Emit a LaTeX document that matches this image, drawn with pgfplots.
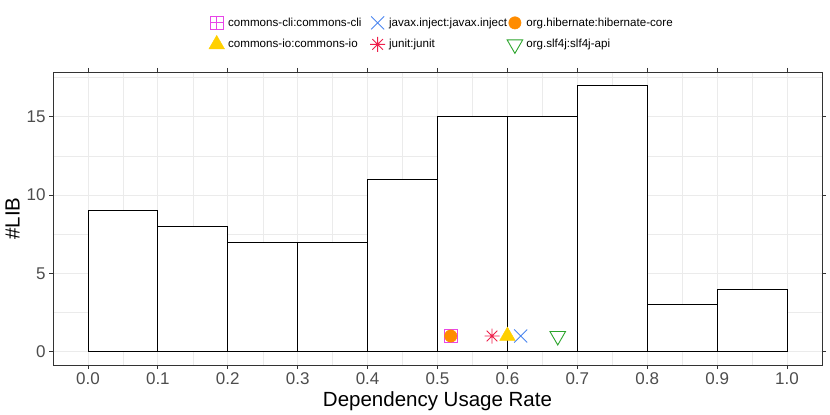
\documentclass[border=0pt]{standalone}
\usepackage{pgfplots}
\pgfplotsset{compat=1.18}
\usepackage{fontspec}
\setmainfont{Liberation Sans}
\usetikzlibrary{plotmarks}

\definecolor{gg92}{HTML}{EBEBEB}
\definecolor{gg20}{HTML}{333333}
\definecolor{gg30}{HTML}{4D4D4D}
\definecolor{ccli}{HTML}{E845E8}
\definecolor{cjavax}{HTML}{4B86F0}
\definecolor{chib}{HTML}{FF8C00}
\definecolor{cio}{HTML}{FFD000}
\definecolor{cjunit}{HTML}{EE1F4B}
\definecolor{cslf}{HTML}{2CA52C}

\pgfdeclareplotmark{boxplus}{%
  \pgfpathrectangle{\pgfqpoint{-\pgfplotmarksize}{-\pgfplotmarksize}}{\pgfqpoint{2\pgfplotmarksize}{2\pgfplotmarksize}}%
  \pgfpathmoveto{\pgfqpoint{-\pgfplotmarksize}{0pt}}\pgfpathlineto{\pgfqpoint{\pgfplotmarksize}{0pt}}%
  \pgfpathmoveto{\pgfqpoint{0pt}{-\pgfplotmarksize}}\pgfpathlineto{\pgfqpoint{0pt}{\pgfplotmarksize}}%
  \pgfusepathqstroke}
\pgfdeclareplotmark{star8}{%
  \pgfpathmoveto{\pgfqpoint{-\pgfplotmarksize}{0pt}}\pgfpathlineto{\pgfqpoint{\pgfplotmarksize}{0pt}}%
  \pgfpathmoveto{\pgfqpoint{0pt}{-\pgfplotmarksize}}\pgfpathlineto{\pgfqpoint{0pt}{\pgfplotmarksize}}%
  \pgfpathmoveto{\pgfqpoint{-.7071\pgfplotmarksize}{-.7071\pgfplotmarksize}}\pgfpathlineto{\pgfqpoint{.7071\pgfplotmarksize}{.7071\pgfplotmarksize}}%
  \pgfpathmoveto{\pgfqpoint{-.7071\pgfplotmarksize}{.7071\pgfplotmarksize}}\pgfpathlineto{\pgfqpoint{.7071\pgfplotmarksize}{-.7071\pgfplotmarksize}}%
  \pgfusepathqstroke}
\pgfdeclareplotmark{xx}{%
  \pgfpathmoveto{\pgfqpoint{-\pgfplotmarksize}{-\pgfplotmarksize}}\pgfpathlineto{\pgfqpoint{\pgfplotmarksize}{\pgfplotmarksize}}%
  \pgfpathmoveto{\pgfqpoint{-\pgfplotmarksize}{\pgfplotmarksize}}\pgfpathlineto{\pgfqpoint{\pgfplotmarksize}{-\pgfplotmarksize}}%
  \pgfusepathqstroke}

\pgfplotstableread{
x y
0.0 9
0.1 8
0.2 7
0.3 7
0.4 11
0.5 15
0.6 15
0.7 17
0.8 3
0.9 4
1.0 4
}\hist

\begin{document}
\begin{tikzpicture}[x=1pt,y=1pt]
\useasboundingbox (0,0) rectangle (830,415);
\begin{axis}[
  at={(53pt,50pt)}, anchor=south west,
  scale only axis, width=769pt, height=293pt,
  xmin=-0.05, xmax=1.05, ymin=-0.85, ymax=17.85,
  xtick={0,0.1,0.2,0.3,0.4,0.5,0.6,0.7,0.8,0.9,1.0},
  xticklabels={0.0,0.1,0.2,0.3,0.4,0.5,0.6,0.7,0.8,0.9,1.0},
  ytick={0,5,10,15},
  minor xtick={0.05,0.15,0.25,0.35,0.45,0.55,0.65,0.75,0.85,0.95},
  minor ytick={2.5,7.5,12.5,17.5},
  grid=both,
  major grid style={color=gg92, line width=0.9pt},
  minor grid style={color=gg92, line width=0.45pt},
  axis line style={gg20, line width=0.8pt},
  tick align=outside, major tick length=4pt, minor tick length=0pt,
  tick style={gg20, line width=0.8pt},
  /pgf/number format/assume math mode=true,
  tick label style={font=\fontsize{17}{20}\selectfont, text=gg30},
  xlabel={Dependency Usage Rate}, ylabel={\#LIB},
  label style={font=\fontsize{20.5}{24}\selectfont, text=black},
  legend columns=3,
  legend cell align=left,
  legend image code/.code={\path (-7pt,0pt) (11pt,0pt); \draw[#1] plot coordinates {(0pt,0pt)};},
  legend style={draw=none, fill=none, inner sep=0pt, row sep=6pt,
    nodes={inner sep=0pt},
    font=\fontsize{11.6}{14}\selectfont,
    at={(0.2025,1.1905)}, anchor=north west},
]
\addplot[ybar interval, fill=white, draw=black, line width=0.9pt, forget plot] table[x=x,y=y] {\hist};
% points in drawing order
\addplot[only marks, mark=boxplus, mark size=6.5pt, color=ccli, line width=0.9pt, forget plot] coordinates {(0.519,1)};
\addplot[only marks, mark=*, mark size=6.2pt, color=chib, forget plot] coordinates {(0.519,1)};
\addplot[only marks, mark=star8, mark size=7.5pt, color=cjunit, line width=0.9pt, forget plot] coordinates {(0.578,1)};
\addplot[only marks, mark=triangle*, mark size=9pt, color=cio, forget plot] coordinates {(0.600,1)};
\addplot[only marks, mark=xx, mark size=6.5pt, color=cjavax, line width=0.9pt, forget plot] coordinates {(0.619,1)};
\addplot[only marks, mark=triangle, mark size=9pt, mark options={rotate=180}, color=cslf, line width=0.9pt, forget plot] coordinates {(0.672,1)};
% bar outlines on top
\addplot[ybar interval, fill=none, draw=black, line width=0.9pt, forget plot] table[x=x,y=y] {\hist};
% legend entries (row-major)
\addlegendimage{only marks, mark=boxplus, mark size=6.5pt, color=ccli, line width=0.9pt}
\addlegendentry{\makebox[142pt][l]{commons-cli:commons-cli}}
\addlegendimage{only marks, mark=xx, mark size=6.5pt, color=cjavax, line width=0.9pt}
\addlegendentry{\makebox[118pt][l]{javax.inject:javax.inject}}
\addlegendimage{only marks, mark=*, mark size=6.2pt, color=chib}
\addlegendentry{org.hibernate:hibernate-core}
\addlegendimage{only marks, mark=triangle*, mark size=9pt, color=cio}
\addlegendentry{\makebox[142pt][l]{commons-io:commons-io}}
\addlegendimage{only marks, mark=star8, mark size=7.5pt, color=cjunit, line width=0.9pt}
\addlegendentry{\makebox[118pt][l]{junit:junit}}
\addlegendimage{only marks, mark=triangle, mark size=9pt, mark options={rotate=180}, color=cslf, line width=0.9pt}
\addlegendentry{org.slf4j:slf4j-api}
\end{axis}
\end{tikzpicture}
\end{document}
